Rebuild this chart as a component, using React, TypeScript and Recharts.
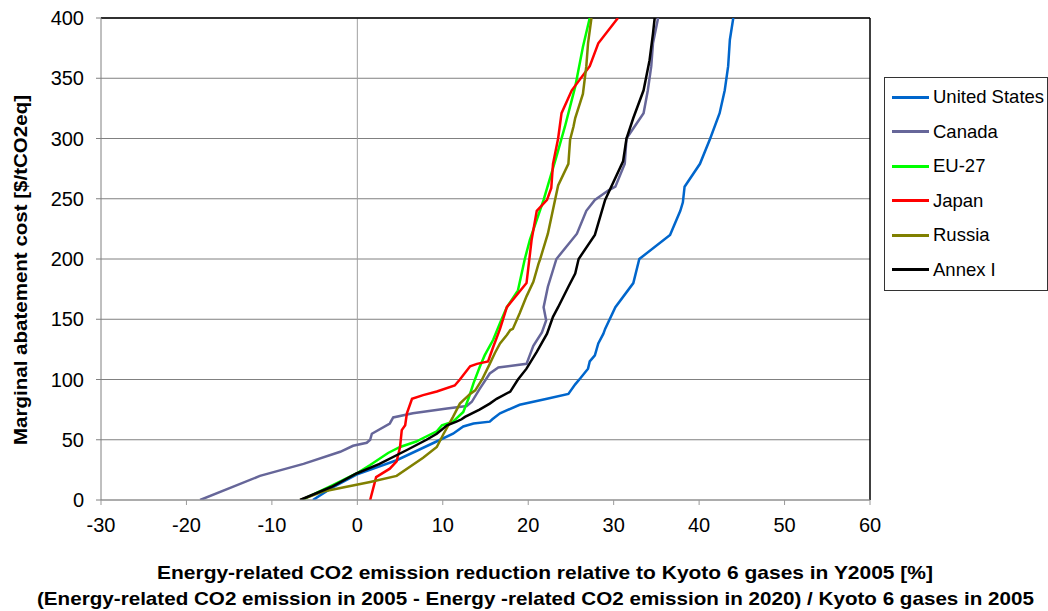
import React from 'react';
import { LineChart, Line, XAxis, YAxis, CartesianGrid, ReferenceLine } from 'recharts';

const xTicks = [-30, -20, -10, 0, 10, 20, 30, 40, 50, 60];
const yTicks = [0, 50, 100, 150, 200, 250, 300, 350, 400];

const seriesNames = ['United States', 'Canada', 'EU-27', 'Japan', 'Russia', 'Annex I'];
const seriesColors = ['#0066CC', '#666699', '#00FF00', '#FF0000', '#808000', '#000000'];

const usX = [-5.2, -3, -0.1, 4.6, 9.7, 11.2, 12.4, 13.6, 15.5, 15.8, 16.7, 19, 22.2, 24.7, 25.5, 26.1, 27, 27.2, 27.8, 28.2, 28.8, 29, 30.2, 32.3, 33, 36.6, 37.8, 38.1, 38.3, 40.1, 41.3, 42.4, 43, 43.4, 43.6, 44];
const usY = [0, 10, 21, 33, 50, 55, 61, 63.5, 65, 67, 72, 79, 84, 88, 96, 101, 109, 115, 120, 130, 138, 142, 160, 180, 200, 220, 240, 247, 260, 279, 300, 321, 340, 360, 382, 400];

const canX = [-18.4, -11.4, -6.3, -2, -0.5, 1.1, 1.5, 1.7, 3.8, 4.2, 6.5, 10.5, 12.8, 13.4, 14.3, 15.5, 16.5, 19.8, 20.6, 21.6, 22.1, 21.8, 22.3, 23.3, 25.7, 26.8, 27.8, 29.4, 30.2, 31.3, 31.5, 33.5, 34, 34.4, 34.6, 35.2];
const canY = [0, 20, 30, 40, 45, 47.5, 50, 55, 63.5, 68.5, 72, 76, 78, 81.5, 92, 105, 110, 113, 128, 139, 149, 160, 177, 200, 221, 240, 249, 257, 260, 279, 300, 321, 340, 360, 379, 400];

const euX = [-6.5, -3, -0.1, 1.5, 3.6, 5, 6.9, 7.3, 9.3, 9.9, 11.2, 12.4, 13, 13.6, 14.3, 14.9, 15.9, 16.7, 17.5, 18.8, 19.6, 20.2, 21.8, 23.3, 24.3, 25.5, 26.4, 27.2];
const euY = [0, 12, 22, 29, 39, 44, 48.5, 50, 57, 62, 65, 73, 84, 97, 110, 120, 133, 147, 160, 174, 200, 216, 249, 285, 310, 343, 376, 400];

const jpX = [1.5, 2.2, 3.8, 4.6, 5, 5.2, 5.6, 5.8, 6.4, 7.7, 9.3, 11.4, 12, 13.2, 14, 15.3, 15.9, 16.7, 17.5, 19.8, 20.4, 21, 22.2, 22.7, 22.9, 23.5, 23.9, 25.1, 27.2, 28.2, 30.5];
const jpY = [0, 19, 26, 32, 44, 58, 62, 72, 84, 87, 90, 95, 100, 111, 113, 115, 127, 142, 160, 180, 216, 240, 249, 259, 279, 300, 321, 340, 360, 379, 400];

const ruX = [-6.7, -4, 1.5, 4.6, 7.7, 9.3, 10.1, 11.2, 12, 13.2, 13.8, 14.6, 15.5, 16.1, 16.7, 17.5, 17.9, 18.2, 19, 19.8, 20.6, 21.2, 21.4, 22.3, 23.5, 24.7, 24.9, 25.3, 25.5, 26.4, 26.8, 27, 27.4];
const ruY = [0, 7, 15, 20, 35, 44, 55, 69, 80, 88, 91, 100, 113, 122, 130, 137, 141, 142, 155, 169, 181, 196, 200, 221, 261, 279, 299, 310, 317, 337, 360, 379, 400];

const a1X = [-6.7, -3, -0.1, 2.6, 5.8, 8.1, 9.3, 10.5, 11.6, 12.2, 12.6, 14.3, 15.5, 16.3, 17.9, 18.8, 19.8, 21, 22.2, 22.9, 23.5, 24.7, 25.5, 25.9, 27.8, 29, 31.1, 31.5, 32.3, 33.5, 34.2, 34.6, 34.8];
const a1Y = [0, 11, 22, 30, 41.5, 50, 55, 62, 65, 67, 69, 75, 80, 84, 90, 100, 109, 123, 138, 152, 160, 177, 188, 200, 220, 249, 281, 300, 317, 340, 365, 387, 400];

const toPoints = (xs: number[], ys: number[]) => xs.map((x, i) => ({ x, y: ys[i] }));

const seriesData = [
  toPoints(usX, usY),
  toPoints(canX, canY),
  toPoints(euX, euY),
  toPoints(jpX, jpY),
  toPoints(ruX, ruY),
  toPoints(a1X, a1Y),
];

const FONT = '"Liberation Sans", Arial, sans-serif';

const LegendBox = () => (
  <div
    style={{
      position: 'absolute',
      left: 884,
      top: 77,
      border: '1px solid #333',
      background: '#fff',
      width: 164,
      height: 214,
      boxSizing: 'border-box',
      paddingTop: 2,
      fontFamily: FONT,
      fontSize: 18.5,
    }}
  >
    {seriesNames.map((n, i) => (
      <div key={n} style={{ display: 'flex', alignItems: 'center', height: 34.5 }}>
        <div style={{ width: 37, height: 3, background: seriesColors[i], marginLeft: 7, marginRight: 4 }} />
        <span style={{ whiteSpace: 'nowrap', color: '#000' }}>{n}</span>
      </div>
    ))}
  </div>
);

export default function App() {
  return (
    <div style={{ position: 'absolute', left: 0, top: 0, width: 1048, height: 611, background: '#fff' }}>
      <LineChart width={1048} height={611} margin={{ top: 18, right: 178, bottom: 71, left: 41 }}>
        <CartesianGrid horizontal={true} vertical={false} stroke="#808080" strokeWidth={1} />
        <XAxis
          type="number"
          dataKey="x"
          domain={[-30, 60]}
          ticks={xTicks}
          interval={0}
          height={40}
          allowDataOverflow
          stroke="#999"
          tickSize={5}
          tickMargin={13}
          tick={{ fontSize: 20, fill: '#000', fontFamily: FONT }}
        />
        <YAxis
          type="number"
          dataKey="y"
          domain={[0, 400]}
          ticks={yTicks}
          interval={0}
          width={60}
          allowDataOverflow
          stroke="#808080"
          tickSize={5}
          tickMargin={12}
          tick={{ fontSize: 20, fill: '#000', fontFamily: FONT }}
        />
        <ReferenceLine x={0} stroke="#a0a0a0" strokeWidth={1} />
        <ReferenceLine y={400} stroke="#000" strokeWidth={1.5} />
        <ReferenceLine x={60} stroke="#000" strokeWidth={1.5} />
        {seriesNames.map((n, i) => (
          <Line
            key={n}
            name={n}
            data={seriesData[i]}
            dataKey="y"
            type="linear"
            stroke={seriesColors[i]}
            strokeWidth={2.5}
            dot={false}
            activeDot={false}
            isAnimationActive={false}
          />
        ))}
      </LineChart>
      <LegendBox />
      <svg width={1048} height={611} style={{ position: 'absolute', left: 0, top: 0, pointerEvents: 'none' }}>
        <text
          x={22}
          y={270}
          transform="rotate(-90 22 270)"
          textAnchor="middle"
          dominantBaseline="middle"
          fontFamily={FONT}
          fontWeight="bold"
          fontSize={19}
          textLength={350}
          lengthAdjust="spacingAndGlyphs"
          fill="#000"
        >
          Marginal abatement cost [$/tCO2eq]
        </text>
        <text x={545} y={579} textAnchor="middle" fontFamily={FONT} fontWeight="bold" fontSize={19} textLength={776} lengthAdjust="spacingAndGlyphs" fill="#000">
          Energy-related CO2 emission reduction relative to Kyoto 6 gases in Y2005 [%]
        </text>
        <text x={535.5} y={605} textAnchor="middle" fontFamily={FONT} fontWeight="bold" fontSize={19} textLength={997} lengthAdjust="spacingAndGlyphs" fill="#000">
          (Energy-related CO2 emission in 2005 - Energy -related CO2 emission in 2020) / Kyoto 6 gases in 2005
        </text>
      </svg>
    </div>
  );
}
